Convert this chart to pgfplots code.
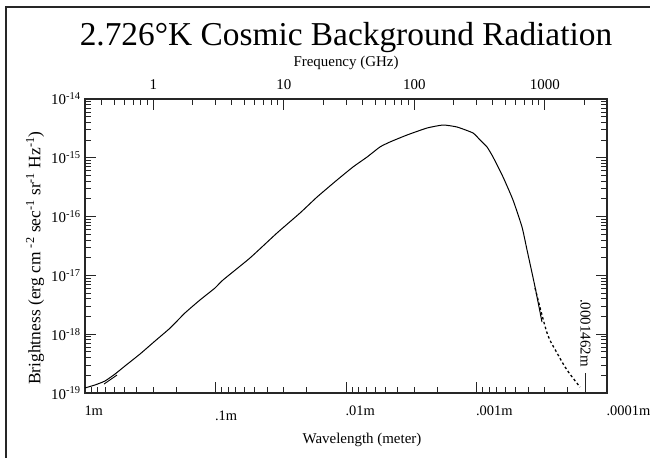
\documentclass[border=0pt]{standalone}
\usepackage{fontspec}
\setmainfont{Liberation Serif}
\usepackage{pgfplots}
\pgfplotsset{compat=1.18}

\pgfplotsset{
  cmbstyle/.style={
    at={(85bp,65bp)}, anchor=south west, scale only axis,
    width=522bp, height=294bp,
    axis line style={line width=1.2bp, black!85},
    tick style={line width=0.9bp, black!85},
    major tick length=11bp, minor tick length=6bp,
    tick label style={font=\fontsize{15}{17}\selectfont},
    label style={font=\fontsize{15}{17}\selectfont},
  }
}

\begin{document}
\begin{tikzpicture}[x=1bp,y=1bp]
\draw[line width=1.5bp, black!85] (6,0) -- (6,451) -- (650,451);

% wavelength axis (bottom), brightness axis (left/right)
\begin{axis}[
  cmbstyle, clip=false,
  xmode=log, ymode=log, x dir=reverse,
  xmin=1e-4, xmax=1, ymin=1e-19, ymax=1e-14,
  xtick pos=bottom,
  xtick={1,0.1,0.01,0.001,0.0001},
  xticklabels={1m,\raisebox{-5bp}{.1m},.01m,.001m,.0001m},
  minor xtick={0.9,0.8,0.7,0.6,0.5,0.4,0.3,0.2,
    0.09,0.08,0.07,0.06,0.05,0.04,0.03,0.02,
    0.009,0.008,0.007,0.006,0.005,0.004,0.003,0.002,
    0.0009,0.0008,0.0007,0.0006,0.0005,0.0004,0.0003,0.0002},
  ytick={1e-19,1e-18,1e-17,1e-16,1e-15,1e-14},
  yticklabels={10\textsuperscript{-19},10\textsuperscript{-18},10\textsuperscript{-17},
    10\textsuperscript{-16},10\textsuperscript{-15},10\textsuperscript{-14}},
  minor ytick={2e-19,3e-19,4e-19,5e-19,6e-19,7e-19,8e-19,9e-19,
    2e-18,3e-18,4e-18,5e-18,6e-18,7e-18,8e-18,9e-18,
    2e-17,3e-17,4e-17,5e-17,6e-17,7e-17,8e-17,9e-17,
    2e-16,3e-16,4e-16,5e-16,6e-16,7e-16,8e-16,9e-16,
    2e-15,3e-15,4e-15,5e-15,6e-15,7e-15,8e-15,9e-15},
  xticklabel style={anchor=base west, yshift=-22bp, xshift=-4bp,
    font=\fontsize{14.5}{17}\selectfont},
  yticklabel style={anchor=east, xshift=-1bp},
  xlabel={Wavelength (meter)},
  xlabel style={at={([xshift=16bp]axis description cs:0.5,0)}, anchor=center, yshift=-47bp},
  ylabel={Brightness (erg cm \textsuperscript{-2} sec\textsuperscript{-1} sr\textsuperscript{-1} Hz\textsuperscript{-1})},
  ylabel style={at={([xshift=-50bp,yshift=-12bp]axis description cs:0,0.5)}, anchor=center,
    font=\fontsize{17.5}{19}\selectfont},
]
\addplot[black, line width=1bp, smooth, tension=0.3] coordinates {
  (1,1.22e-19) (0.838,1.37e-19) (0.703,1.60e-19) (0.589,2.10e-19)
  (0.494,2.88e-19) (0.379,4.60e-19) (0.291,7.65e-19) (0.223,1.27e-18)
  (0.1713,2.30e-18) (0.1315,3.82e-18) (0.1009,6.11e-18) (0.0876,8.36e-18)
  (0.0544,1.98e-17) (0.0338,5.26e-17) (0.02252,1.15e-16) (0.01668,2.15e-16)
  (0.01172,4.19e-16) (0.00884,6.98e-16) (0.0069,1.03e-15) (0.00549,1.53e-15)
  (0.00460,1.86e-15) (0.00341,2.44e-15) (0.002394,3.21e-15) (0.001805,3.61e-15)
  (0.001411,3.34e-15) (0.001063,2.64e-15) (0.000940,2.01e-15) (0.000831,1.53e-15)
  (0.000747,1.03e-15) (0.000626,4.71e-16) (0.000525,1.91e-16) (0.000448,6.65e-17)
  (0.000410,2.70e-17) (0.000356,6.35e-18) (0.000315,1.61e-18)
};
\addplot[black, line width=0.9bp] coordinates {
  (0.715,1.42e-19) (0.5685,2.02e-19)
};
\addplot[black, line width=1.3bp, dash pattern=on 2.5bp off 2.5bp, smooth] coordinates {
  (0.000356,6.11e-18) (0.000288,1.05e-18) (0.0002415,4.79e-19)
  (0.0002025,2.46e-19) (0.000161,1.26e-19)
};
\draw[line width=0.9bp, black!85] (axis cs:0.0001462,1e-19) -- ([yshift=20bp]axis cs:0.0001462,1e-19);
\node[rotate=-90, anchor=east, inner sep=0pt, font=\fontsize{15}{17}\selectfont]
  at ([yshift=26bp]axis cs:0.0001462,1e-19) {.0001462m};
\node[anchor=base, font=\fontsize{33.5}{36}\selectfont]
  at ([yshift=53bp]axis description cs:0.5,1) {2.726°K Cosmic Background Radiation};
\end{axis}

% frequency axis (top)
\begin{axis}[
  cmbstyle,
  xmode=log, xmin=0.29979, xmax=2997.9, ymin=0, ymax=1,
  axis x line*=top, hide y axis,
  xtick={1,10,100,1000}, xticklabels={1,10,100,1000},
  minor xtick={0.3,0.4,0.5,0.6,0.7,0.8,0.9,2,3,4,5,6,7,8,9,
    20,30,40,50,60,70,80,90,200,300,400,500,600,700,800,900,2000},
  xticklabel style={anchor=base, yshift=9bp},
  xlabel={Frequency (GHz)},
  xlabel style={at={(axis description cs:0.5,1)}, anchor=base, yshift=32bp},
]
\end{axis}
\pgfresetboundingbox
\path[use as bounding box] (0,0) rectangle (650,458);
\end{tikzpicture}
\end{document}
